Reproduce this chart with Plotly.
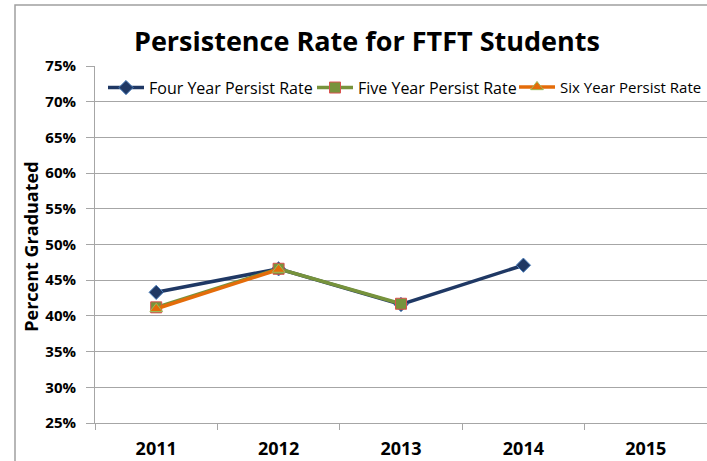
import plotly.graph_objects as go

years = ["2011", "2012", "2013", "2014", "2015"]
four_year = [0.433, 0.466, 0.416, 0.471, None]
five_year = [0.412, 0.466, 0.417, None, None]
six_year = [0.410, 0.465, None, None, None]

FONT = "Open Sans"
GRID = "#A6A6A6"

fig = go.Figure()
fig.add_trace(go.Scatter(
    x=years, y=four_year, name="Four Year Persist Rate", mode="lines+markers",
    line=dict(color="#1F3864", width=3.5), legend="legend",
    marker=dict(symbol="diamond", size=11, color="#1F3864", line=dict(color="#4F81BD", width=1)),
))
fig.add_trace(go.Scatter(
    x=years, y=five_year, name="Five Year Persist Rate", mode="lines+markers",
    line=dict(color="#77933C", width=3.5), legend="legend2",
    marker=dict(symbol="square", size=11, color="#77933C", line=dict(color="#D9534F", width=1)),
))
fig.add_trace(go.Scatter(
    x=years, y=six_year, name="Six Year Persist Rate", mode="lines+markers",
    line=dict(color="#E46C0A", width=3.5), legend="legend3",
    marker=dict(symbol="triangle-up", size=11, color="#E46C0A", line=dict(color="#9BBB59", width=1)),
))

leg_common = dict(orientation="h", xanchor="left", y=0.987, yanchor="top",
                  bgcolor="rgba(0,0,0,0)", itemwidth=36, borderwidth=0)

fig.update_layout(
    width=707, height=461,
    margin=dict(l=95, r=0, t=66, b=38, autoexpand=False),
    paper_bgcolor="white", plot_bgcolor="white",
    font=dict(family=FONT, color="black"),
    title=dict(text="<b>Persistence Rate for FTFT Students</b>", x=0.519, xanchor="center",
               y=1 - 42 / 461, yanchor="middle", font=dict(size=27, family=FONT)),
    showlegend=True,
    legend=dict(x=(103 - 95) / 612, font=dict(size=16, family=FONT), **leg_common),
    legend2=dict(x=(312 - 95) / 612, font=dict(size=16, family=FONT), **leg_common),
    legend3=dict(x=(514 - 95) / 612, font=dict(size=15, family=FONT), **leg_common),
    xaxis=dict(type="category", range=[-0.5, 4.5], showgrid=False, showline=True,
               linecolor=GRID, linewidth=1, ticks="outside", tickson="boundaries",
               ticklen=6, tickcolor=GRID, tickfont=dict(size=18, family=FONT),
               tickprefix="<b>", ticksuffix="</b>", ticklabelstandoff=9, fixedrange=True),
    yaxis=dict(range=[0.25, 0.75], dtick=0.05, tickformat=".0%", showgrid=True,
               gridcolor=GRID, gridwidth=1, showline=True, linecolor=GRID, linewidth=1,
               ticks="outside", ticklen=8, tickcolor=GRID, zeroline=False,
               tickfont=dict(size=15, family=FONT), tickprefix="<b>", ticksuffix="</b>",
               ticklabelstandoff=7, fixedrange=True),
    shapes=[dict(type="rect", xref="paper", yref="paper",
                 x0=(15 - 95) / 612, x1=1.2, y0=-0.3, y1=(423.5 - 5) / 357.5,
                 line=dict(color="#A0A0A0", width=1.5), fillcolor="rgba(0,0,0,0)", layer="below")],
    annotations=[dict(text="<b>Percent Graduated</b>", textangle=-90, xref="paper", yref="paper",
                      x=(31 - 95) / 612, y=(423.5 - 247) / 357.5, xanchor="center", yanchor="middle",
                      showarrow=False, font=dict(size=18, family=FONT))],
)

fig.write_html("out.html", config={"displayModeBar": False},
               post_script="document.body.style.margin='0';document.body.style.padding='0';")
